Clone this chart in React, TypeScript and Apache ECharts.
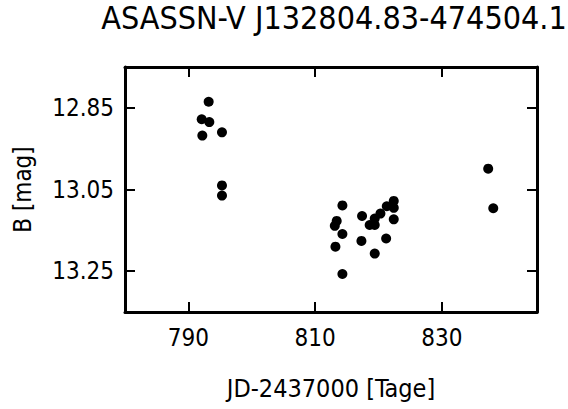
import React, { useEffect, useRef } from "react";
import * as echarts from "echarts";

const titleText = "ASASSN-V J132804.83-474504.1";
const xName = "JD-2437000 [Tage]";
const yName = "B [mag]";

const xTicks = [790, 810, 830];
const yTicks = [12.85, 13.05, 13.25];

const jd = [
  793.2, 792.1, 793.3, 795.3, 792.2, 795.3, 795.3,
  814.3, 813.4, 813.1, 814.3, 813.2, 814.3, 817.4, 817.3, 818.6, 819.4,
  819.4, 820.3, 821.3, 822.4, 822.4, 822.4, 821.2, 819.4,
  837.3, 838.1,
];
const mag = [
  12.835, 12.878, 12.885, 12.91, 12.918, 13.04, 13.065,
  13.089, 13.127, 13.139, 13.159, 13.19, 13.257, 13.115, 13.176, 13.137, 13.137,
  13.121, 13.109, 13.091, 13.078, 13.095, 13.123, 13.17, 13.207,
  12.999, 13.096,
];

const FONT = "'DejaVu Sans Condensed', 'DejaVu Sans', sans-serif";

export default function App() {
  const ref = useRef<HTMLDivElement>(null);
  useEffect(() => {
    if (!ref.current) return;
    const chart = echarts.init(ref.current, null, { renderer: "svg" });
    const data = jd.map((x, i) => [x, mag[i]]);
    const lineStyle = { color: "#000", width: 3 };
    const tickStyle = { color: "#000", width: 2 };
    const xBase = {
      type: "value" as const,
      min: 780,
      max: 845,
      splitLine: { show: false },
      axisLine: { show: true, onZero: false, lineStyle },
    };
    const yBase = {
      type: "value" as const,
      min: 12.75,
      max: 13.35,
      inverse: true,
      splitLine: { show: false },
      axisLine: { show: true, onZero: false, lineStyle },
    };
    chart.setOption({
      animation: false,
      backgroundColor: "#fff",
      title: {
        text: titleText,
        left: 329,
        top: -3,
        textAlign: "center",
        textStyle: { fontFamily: FONT, fontSize: 32, fontWeight: "normal", color: "#000" },
      },
      grid: { left: 125, right: 31, top: 67, bottom: 97, containLabel: false },
      xAxis: [
        {
          ...xBase,
          position: "bottom",
          name: xName,
          nameLocation: "middle",
          nameGap: 64,
          nameTextStyle: { fontFamily: FONT, fontSize: 25, color: "#000" },
          axisTick: { show: true, inside: true, length: 10, lineStyle: tickStyle, customValues: xTicks },
          axisLabel: {
            show: true,
            margin: 14,
            fontFamily: FONT,
            fontSize: 24,
            color: "#000",
            customValues: xTicks,
            formatter: (v: number) => String(Math.round(v)),
          },
        },
        {
          ...xBase,
          position: "top",
          axisTick: { show: true, inside: true, length: 10, lineStyle: tickStyle, customValues: xTicks },
          axisLabel: { show: false },
        },
      ],
      yAxis: [
        {
          ...yBase,
          position: "left",
          name: yName,
          nameLocation: "middle",
          nameRotate: 90,
          nameGap: 90,
          nameTextStyle: { fontFamily: FONT, fontSize: 24, color: "#000" },
          axisTick: { show: true, inside: true, length: 10, lineStyle: tickStyle, customValues: yTicks },
          axisLabel: {
            show: true,
            margin: 11,
            fontFamily: FONT,
            fontSize: 24,
            color: "#000",
            customValues: yTicks,
            formatter: (v: number) => v.toFixed(2),
          },
        },
        {
          ...yBase,
          position: "right",
          axisTick: { show: true, inside: true, length: 10, lineStyle: tickStyle, customValues: yTicks },
          axisLabel: { show: false },
        },
      ],
      series: [
        {
          type: "scatter",
          xAxisIndex: 0,
          yAxisIndex: 0,
          data,
          symbol: "circle",
          symbolSize: 10,
          itemStyle: { color: "#000", opacity: 1 },
        },
      ],
    });
    return () => chart.dispose();
  }, []);
  return (
    <div
      ref={ref}
      style={{ position: "fixed", left: 0, top: 0, width: 568, height: 409, background: "#fff" }}
    />
  );
}
